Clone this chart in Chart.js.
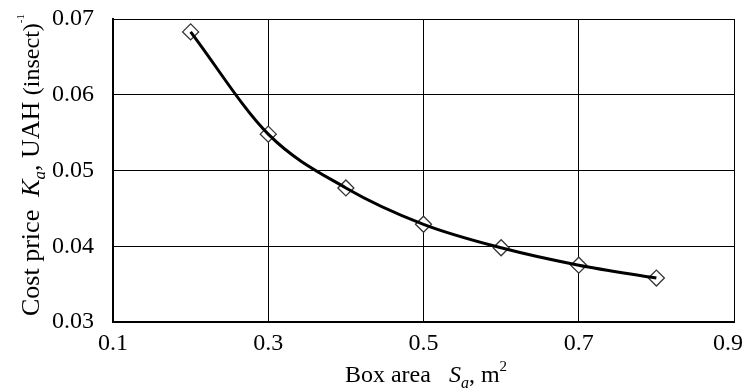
<!DOCTYPE html>
<html>
<head>
<meta charset="utf-8">
<script src="https://cdn.jsdelivr.net/npm/chart.js@4/dist/chart.umd.min.js"></script>
<style>
  html, body { margin: 0; padding: 0; background: #fff; }
  #wrap { width: 747px; height: 390px; }
</style>
</head>
<body>
<div id="wrap"><canvas id="chart"></canvas></div>
<script>
// box area, m2
const boxArea = [0.2, 0.3, 0.4, 0.5, 0.6, 0.7, 0.8];
// cost price, UAH per insect
const costPrice = [0.0683, 0.0548, 0.0477, 0.0429, 0.0398, 0.0375, 0.0358];
const xTicks = [0.1, 0.3, 0.5, 0.7, 0.9];
const yTicks = [0.03, 0.04, 0.05, 0.06, 0.07];

const points = boxArea.map((x, i) => ({ x: x, y: costPrice[i] }));
const serif = '"Liberation Serif", "Times New Roman", serif';

// draws a title made of pieces with different fonts (italic, sub/superscript)
function drawRich(ctx, parts, cx, cy) {
    let total = 0;
    parts.forEach(p => {
        ctx.font = p.font;
        p.w = ctx.measureText(p.text).width;
        total += p.w;
    });
    let x = cx - total / 2;
    ctx.textBaseline = 'alphabetic';
    ctx.textAlign = 'left';
    parts.forEach(p => {
        ctx.font = p.font;
        ctx.fillText(p.text, x, cy + (p.dy || 0));
        x += p.w;
    });
}

const titlePlugin = {
    id: 'richTitles',
    afterDraw(chart) {
        const ctx = chart.ctx;
        ctx.save();
        ctx.fillStyle = '#000';
        drawRich(ctx, [
            { text: 'Box area   ', font: '24px ' + serif },
            { text: 'S', font: 'italic 24px ' + serif },
            { text: 'a', font: 'italic 16px ' + serif, dy: 6 },
            { text: ', m', font: '24px ' + serif },
            { text: '2', font: '15px ' + serif, dy: -11 }
        ], 426, 382);

        ctx.translate(39, 165);
        ctx.rotate(-Math.PI / 2);
        drawRich(ctx, [
            { text: 'Cost price  ', font: '26px ' + serif },
            { text: 'K', font: 'italic 26px ' + serif },
            { text: 'a', font: 'italic 17px ' + serif, dy: 6 },
            { text: ', UAH ', font: '26px ' + serif },
            { text: '(insect)', font: '24px ' + serif },
            { text: '-1', font: '11px ' + serif, dy: -15 }
        ], 0, 0);
        ctx.restore();
    }
};

new Chart(document.getElementById('chart'), {
    type: 'scatter',
    data: {
        datasets: [
            {
                label: 'fit',
                data: points,
                showLine: true,
                borderColor: '#000',
                borderWidth: 3,
                pointRadius: 0,
                cubicInterpolationMode: 'monotone',
                order: 0
            },
            {
                label: 'points',
                data: points,
                showLine: false,
                pointStyle: 'rectRot',
                pointRadius: 8,
                pointBackgroundColor: '#fff',
                pointBorderColor: '#333',
                pointBorderWidth: 1.3,
                order: 1
            }
        ]
    },
    options: {
        responsive: true,
        maintainAspectRatio: false,
        animation: false,
        layout: { padding: { top: 19, right: 13, left: 0, bottom: 0 } },
        plugins: {
            legend: { display: false },
            tooltip: { enabled: false }
        },
        scales: {
            x: {
                type: 'linear',
                min: 0.1,
                max: 0.9,
                afterBuildTicks: axis => { axis.ticks = xTicks.map(v => ({ value: v })); },
                afterFit: axis => {
                    axis.height = 68;
                    axis.paddingLeft = 0;
                    axis.paddingRight = 0;
                },
                ticks: {
                    color: '#000',
                    font: { family: serif, size: 24 },
                    padding: 7,
                    maxRotation: 0,
                    // last label nudged left so it stays inside the canvas
                    callback: v => v === 0.9 ? v.toFixed(1) + '\u2002' : v.toFixed(1)
                },
                grid: { color: '#000', lineWidth: 1, drawTicks: false },
                border: { color: '#000', width: 2 }
            },
            y: {
                min: 0.03,
                max: 0.07,
                afterBuildTicks: axis => { axis.ticks = yTicks.map(v => ({ value: v })); },
                afterFit: axis => {
                    axis.width = 113;
                    axis.paddingTop = 0;
                    axis.paddingBottom = 0;
                },
                ticks: {
                    color: '#000',
                    font: { family: serif, size: 24 },
                    padding: 19,
                    callback: v => v.toFixed(2)
                },
                grid: { color: '#000', lineWidth: 1, drawTicks: false },
                border: { color: '#000', width: 2 }
            }
        }
    },
    plugins: [titlePlugin]
});
</script>
</body>
</html>
